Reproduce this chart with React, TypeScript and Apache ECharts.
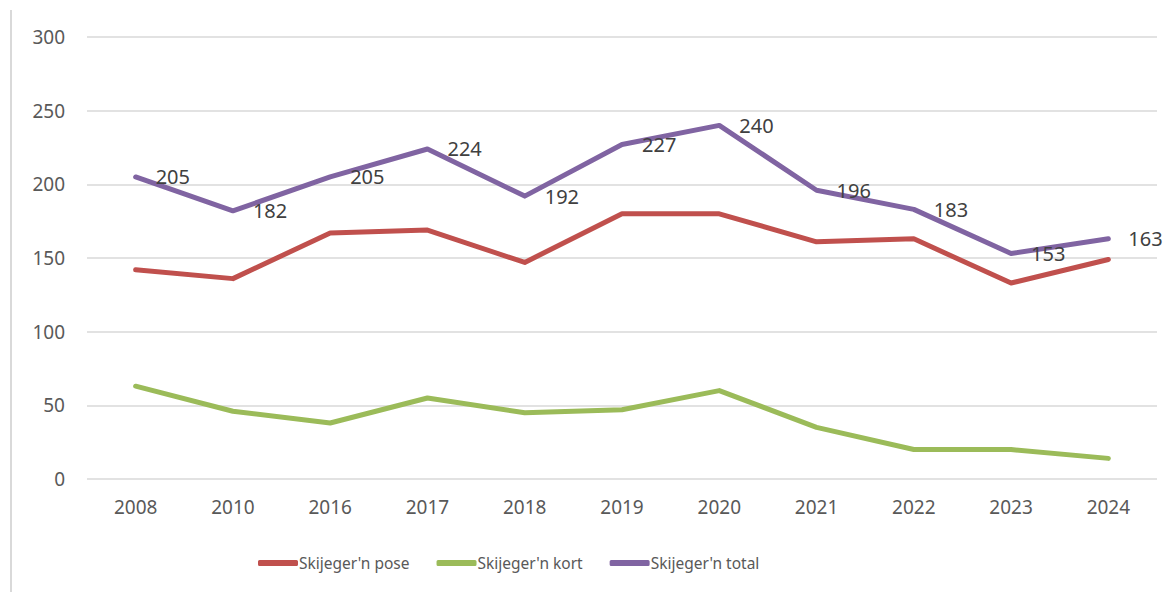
import React, { useEffect, useRef } from "react";
import * as echarts from "echarts";

const years = ["2008", "2010", "2016", "2017", "2018", "2019", "2020", "2021", "2022", "2023", "2024"];
const pose = [142, 136, 167, 169, 147, 180, 180, 161, 163, 133, 149];
const kort = [63, 46, 38, 55, 45, 47, 60, 35, 20, 20, 14];
const total = [205, 182, 205, 224, 192, 227, 240, 196, 183, 153, 163];

const FONT = "'Noto Sans', sans-serif";

export default function App() {
  const ref = useRef<HTMLDivElement>(null);
  useEffect(() => {
    const chart = echarts.init(ref.current!, null, { renderer: "svg" });
    const lineSeries = (name: string, data: number[], color: string, label: boolean) => ({
      name,
      type: "line",
      data,
      symbol: "circle",
      symbolSize: 0,
      showSymbol: true,
      lineStyle: { color, width: 5, cap: "round", join: "round" },
      itemStyle: { color },
      label: label
        ? { show: true, position: "right", distance: 20, color: "#404040", fontSize: 20, fontFamily: FONT }
        : { show: false },
      emphasis: { disabled: true },
    });
    chart.setOption({
      animation: false,
      textStyle: { fontFamily: FONT },
      grid: { left: 87, right: 16, top: 37, bottom: 113, containLabel: false },
      xAxis: {
        type: "category",
        data: years,
        boundaryGap: true,
        axisLine: { show: false },
        axisTick: { show: false },
        axisLabel: { color: "#595959", fontSize: 19, fontFamily: FONT, margin: 18 },
      },
      yAxis: {
        type: "value",
        min: 0,
        max: 300,
        interval: 50,
        axisLine: { show: false },
        axisTick: { show: false },
        splitLine: { lineStyle: { color: "#d9d9d9", width: 1.5 } },
        axisLabel: { color: "#595959", fontSize: 19, fontFamily: FONT, margin: 22 },
      },
      legend: {
        bottom: 16,
        left: 253,
        itemWidth: 40,
        itemHeight: 6,
        itemGap: 27,
        icon: "roundRect",
        textStyle: { color: "#595959", fontSize: 15.5, fontFamily: FONT, padding: [0, 0, 0, -4] },
        data: ["Skijeger'n pose", "Skijeger'n kort", "Skijeger'n total"],
      },
      graphic: [
        { type: "line", shape: { x1: 11, y1: 10, x2: 11, y2: 592 }, style: { stroke: "#d9d9d9", lineWidth: 2 } },
      ],
      series: [
        lineSeries("Skijeger'n pose", pose, "#C0504D", false),
        lineSeries("Skijeger'n kort", kort, "#9BBB59", false),
        lineSeries("Skijeger'n total", total, "#8064A2", true),
      ],
    });
    return () => chart.dispose();
  }, []);
  return <div ref={ref} style={{ width: 1173, height: 592, margin: "-8px 0 0 -8px", background: "#fff" }} />;
}
